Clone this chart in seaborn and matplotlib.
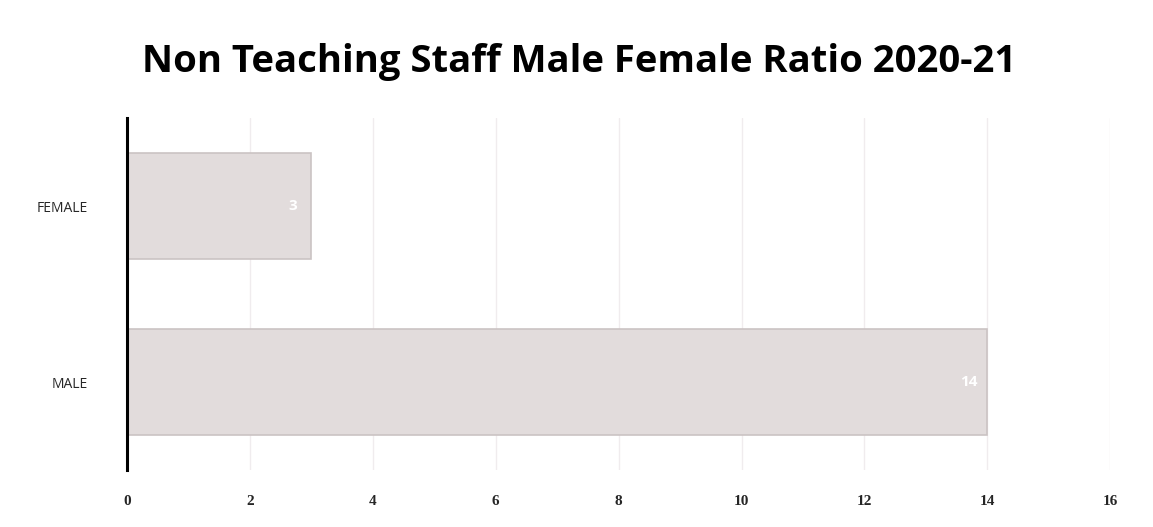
import pandas as pd
import matplotlib.pyplot as plt
import seaborn as sns

categories = ['FEMALE', 'MALE']
staff_counts = [3, 14]
x_ticks = [0, 2, 4, 6, 8, 10, 12, 14, 16]

df = pd.DataFrame({'Gender': categories, 'Count': staff_counts})

sns.set_style('white')
plt.rcParams['font.family'] = ['Open Sans', 'DejaVu Sans']

fig = plt.figure(figsize=(11.53, 5.27), dpi=100)
ax = fig.add_axes([0.110, 0.108, 0.853, 0.668])

# Light vertical gridlines behind the bars
for t in x_ticks[1:]:
    ax.axvline(t, color='#f0ecee', lw=1, zorder=0)

sns.barplot(data=df, x='Count', y='Gender', orient='h', width=0.6,
            color='#e2dcdc', edgecolor='#cbc3c3', linewidth=1.2,
            saturation=1, ax=ax, zorder=2)

# White data labels at the end of each bar
for i, v in enumerate(staff_counts):
    ax.text(v - 0.3, i, str(v), ha='center', va='center',
            color='white', fontsize=11, fontweight='bold', zorder=3)

ax.set_xlim(0, 16)
ax.set_ylim(1.5, -0.5)
ax.set_xticks(x_ticks)
ax.set_xticklabels([str(t) for t in x_ticks], fontsize=11,
                   family='Liberation Serif', fontweight='bold')
ax.tick_params(axis='x', length=0, pad=18)
ax.tick_params(axis='y', length=0, pad=28, labelsize=10)
ax.set_xlabel('')
ax.set_ylabel('')

for side in ['top', 'right', 'bottom']:
    ax.spines[side].set_visible(False)
ax.spines['left'].set_color('black')
ax.spines['left'].set_linewidth(2.2)

fig.suptitle('Non Teaching Staff Male Female Ratio 2020-21', x=0.502, y=0.882,
             fontsize=27.5, fontweight='bold', color='black', va='center')

fig.savefig('out.png', dpi=100, facecolor='white')
